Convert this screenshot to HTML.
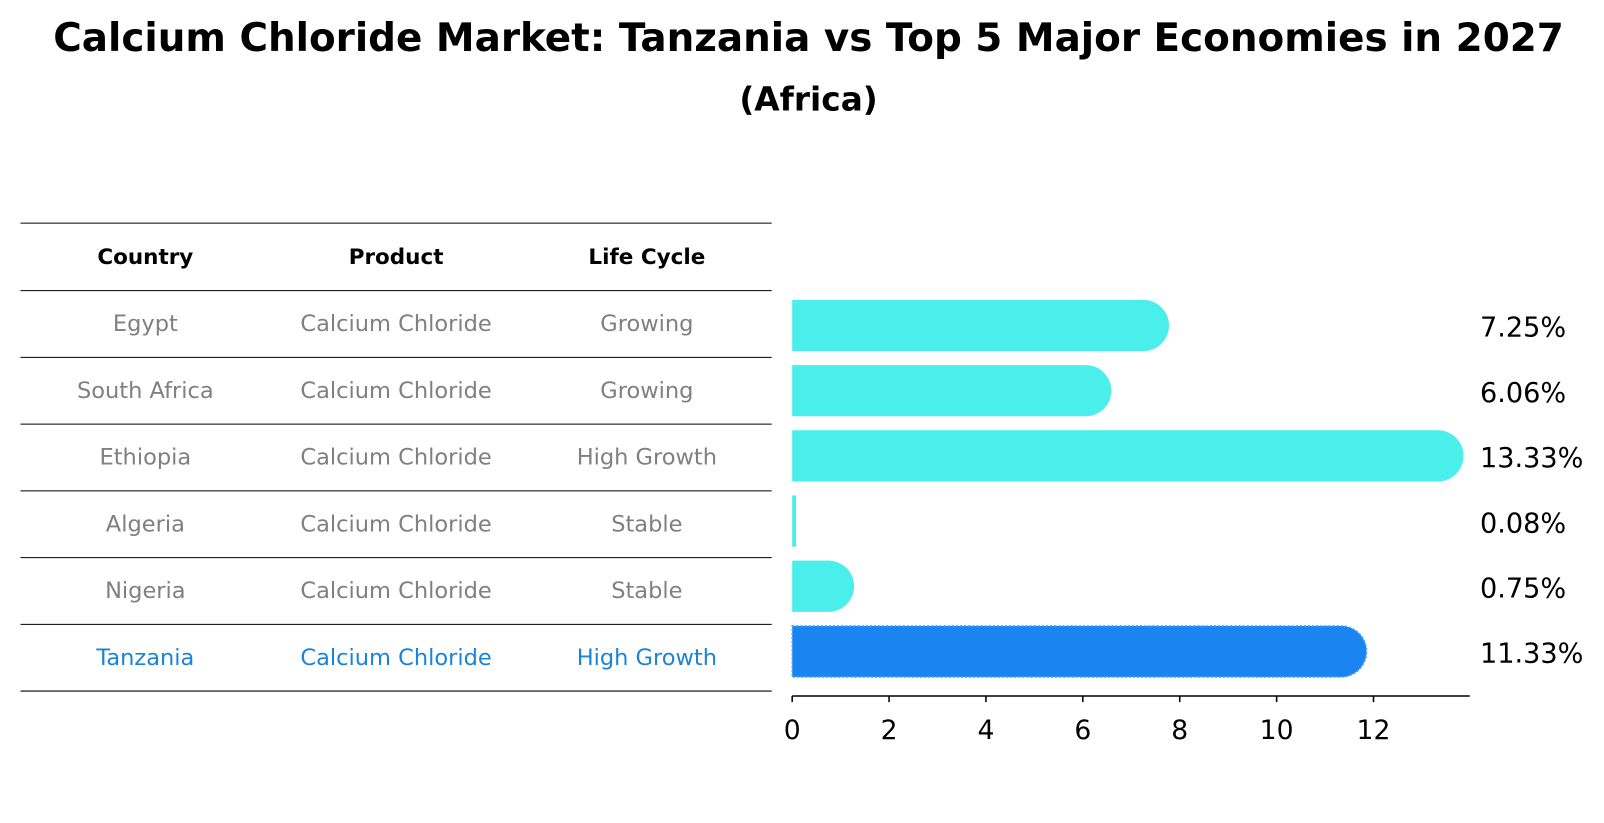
<!DOCTYPE html>
<html><head><meta charset="utf-8"><style>
html,body{margin:0;padding:0;background:#fff;font-family:"DejaVu Sans","Liberation Sans",sans-serif;overflow:hidden;width:1604px;height:823px}
#wrap{position:relative;width:1604px;height:823px;overflow:hidden}
svg{display:block}
</style></head><body>
<div id="wrap">
<svg width="1604" height="823">
<g id="svg" transform="scale(1.0235)">
<text x="790" y="50" text-anchor="middle" font-size="38" font-weight="bold">Calcium Chloride Market: Tanzania vs Top 5 Major Economies in 2027</text>
<text x="790" y="108" text-anchor="middle" font-size="32" font-weight="bold">(Africa)</text>
</g>
</svg>
</div>
<script>
const countries=["Egypt","South Africa","Ethiopia","Algeria","Nigeria","Tanzania"];
const products=["Calcium Chloride","Calcium Chloride","Calcium Chloride","Calcium Chloride","Calcium Chloride","Calcium Chloride"];
const lifecycles=["Growing","Growing","High Growth","Stable","Stable","High Growth"];
const values=[7.25,6.06,13.33,0.08,0.75,11.33];
const ticks=[0,2,4,6,8,10,12];
const NS="http://www.w3.org/2000/svg";
const svg=document.getElementById('svg');
function mk(t,a,txt){const e=document.createElementNS(NS,t);for(const k in a)e.setAttribute(k,a[k]);if(txt!==undefined)e.textContent=txt;svg.appendChild(e);return e;}
const x0=774,ppu=47.33;
function xs(v){return x0+v*ppu;}
const rowTop=284,rowH=65.2;
function yc(i){return rowTop+rowH*i+rowH/2;}
function yb(i){return 318+63.7*i;}
const colX=[142,387,632];
let ln=mk('line',{x1:20,x2:754,y1:218,y2:218,stroke:'#000','stroke-width':1});

["Country","Product","Life Cycle"].forEach((h,j)=>{const t=mk('text',{x:colX[j],y:258,'text-anchor':'middle','font-size':21,'font-weight':'bold'},h);
});
for(let i=0;i<=countries.length;i++){const l=mk('line',{x1:20,x2:754,y1:rowTop+rowH*i,y2:rowTop+rowH*i,stroke:'#000','stroke-width':1});
}
countries.forEach((c,i)=>{const col=c==="Tanzania"?'#1a85d8':'#808080';
[c,products[i],lifecycles[i]].forEach((s,j)=>{const t=mk('text',{x:colX[j],y:yc(i)+7,'text-anchor':'middle','font-size':22,fill:col},s);
});});
const bh=50,r=25;
values.forEach((v,i)=>{const y=yb(i)-bh/2;const xe=xs(v);const hl=countries[i]==="Tanzania";
const fill=hl?'#1a85f0':'#4aeeea';let d;
if(v>0.5){d=`M${x0},${y}H${xe}A${r},${r} 0 0 1 ${xe},${y+bh}H${x0}Z`;}else{d=`M${x0},${y}H${Math.max(xe,x0+3)}V${y+bh}H${x0}Z`;}
const p=mk('path',{d:d,fill:fill});
if(hl){p.setAttribute('stroke','#4aa8ff');p.setAttribute('stroke-width','1.5');p.setAttribute('stroke-dasharray','2,2');}

const t=mk('text',{x:1446,y:yb(i)+11,'font-size':26.5},v.toFixed(2)+'%');
});
const ax=mk('line',{x1:x0,x2:1436,y1:680,y2:680,stroke:'#000','stroke-width':1.5});

ticks.forEach(tv=>{const l=mk('line',{x1:xs(tv),x2:xs(tv),y1:680,y2:686,stroke:'#000','stroke-width':1.5});

const t=mk('text',{x:xs(tv),y:722,'text-anchor':'middle','font-size':26},String(tv));
});
</script>
</body></html>
